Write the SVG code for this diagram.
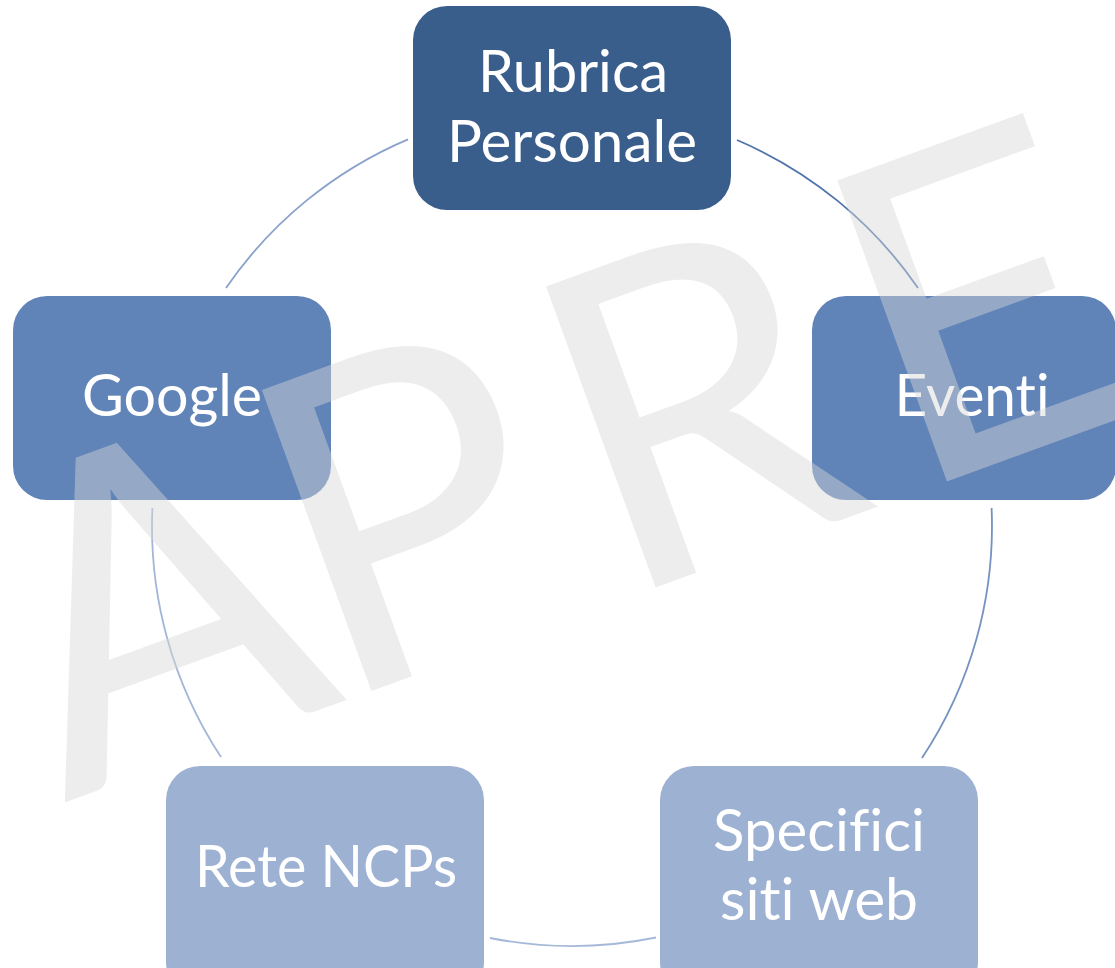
<svg xmlns="http://www.w3.org/2000/svg" width="1115" height="968" viewBox="0 0 1115 968">
<style>
.lbl{font-family:Lato,"Open Sans","Liberation Sans",sans-serif;font-size:59px;fill:#ffffff;text-anchor:middle;font-variant-ligatures:none;font-feature-settings:"liga" 0}
.arc{fill:none;stroke-width:1.8}
.wm{font-family:Lato,"Open Sans","Liberation Sans",sans-serif;font-size:447px;fill:#d7d7d7;fill-opacity:0.45;font-variant-ligatures:none}
</style>
<rect width="1115" height="968" fill="#ffffff"/>
<g id="connectors">
<path class="arc" stroke="#4f74ad" d="M 737 140 A 420 420 0 0 1 918 288"/>
<path class="arc" stroke="#7592c2" d="M 991.6 508 A 420 420 0 0 1 922 758"/>
<path class="arc" stroke="#a6b8d8" d="M 656 937.5 A 420 420 0 0 1 490 938"/>
<path class="arc" stroke="#a3b6d6" d="M 221 757 A 420 420 0 0 1 152.4 508"/>
<path class="arc" stroke="#8aa2cb" d="M 226 288 A 420 420 0 0 1 408 139.3"/>
</g>
<g id="node-rubrica">
<rect x="413" y="6" width="318" height="204" rx="34" fill="#3a5e8b"/>
<text class="lbl" x="573" y="92" textLength="190" lengthAdjust="spacingAndGlyphs">Rubrica</text>
<text class="lbl" x="572" y="162" textLength="250" lengthAdjust="spacingAndGlyphs">Personale</text>
</g>
<g id="node-google">
<rect x="13" y="296" width="318" height="204" rx="34" fill="#6083b8"/>
<text class="lbl" x="172" y="416" textLength="180" lengthAdjust="spacingAndGlyphs">Google</text>
</g>
<g id="node-eventi">
<rect x="812" y="296" width="304" height="204" rx="34" fill="#6083b8"/>
<text class="lbl" x="972" y="416" textLength="155" lengthAdjust="spacingAndGlyphs">Eventi</text>
</g>
<g id="node-rete">
<rect x="166" y="766" width="318" height="230" rx="34" fill="#9db1d2"/>
<text class="lbl" x="326" y="887" textLength="262" lengthAdjust="spacingAndGlyphs">Rete NCPs</text>
</g>
<g id="node-specifici">
<rect x="660" y="766" width="318" height="230" rx="34" fill="#9db1d2"/>
<text class="lbl" x="819" y="851" textLength="212" lengthAdjust="spacingAndGlyphs">Specifici</text>
<text class="lbl" x="819" y="920" textLength="198" lengthAdjust="spacingAndGlyphs">siti web</text>
</g>
<g id="watermark">
<text class="wm" transform="translate(58,805) rotate(-20)" dx="6 -16 34 30">APRE</text>
</g>
</svg>
